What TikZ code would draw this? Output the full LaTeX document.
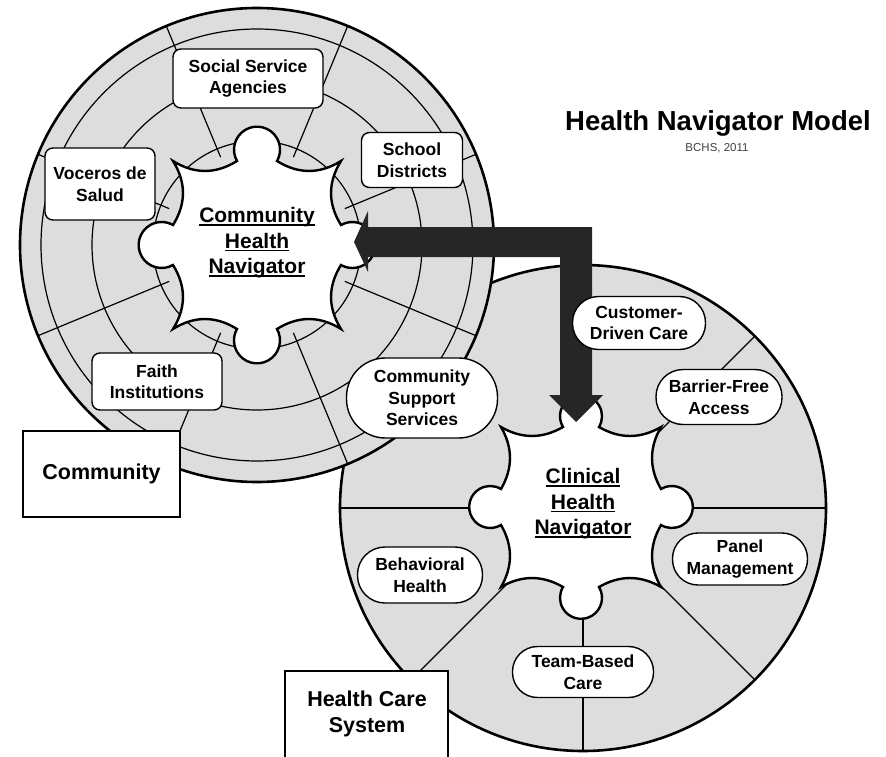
\documentclass[tikz,border=0pt]{standalone}
\usepackage{fontspec}
\setmainfont{Liberation Sans}
\usetikzlibrary{calc}
\definecolor{discfill}{HTML}{DDDDDD}
\definecolor{arrowfill}{HTML}{262626}
\newcommand\gearul[1]{\setbox0\hbox{#1}\rlap{\rule[-3pt]{\wd0}{1.6pt}}\box0}
\newcommand\lblfont{\fontsize{17.5}{21.5}\selectfont\bfseries}
\newcommand\puzzlegear[5]{%
\begin{scope}[shift={(#1)}]
\pgfmathsetmacro\gqS{#2}
\pgfmathsetmacro\gqN{#3}
\pgfmathsetmacro\gqT{#4}
\pgfmathsetmacro\gqB{#5*1.33}
\pgfmathsetmacro\gqK{sqrt(\gqT*\gqT-\gqN*\gqN)}
\pgfmathsetmacro\gqA{atan2(\gqK,\gqN)}
\pgfmathsetmacro\gqD{(\gqS-\gqN)/3}
\filldraw[gearline]
 (-\gqS,-\gqS) .. controls ({-\gqS+\gqD},{-\gqS+\gqB}) and ({-\gqN-\gqD},{-\gqS+\gqB}) .. (-\gqN,-\gqS)
 arc[start angle={180-\gqA}, end angle={360+\gqA}, radius=\gqT]
 .. controls ({\gqN+\gqD},{-\gqS+\gqB}) and ({\gqS-\gqD},{-\gqS+\gqB}) .. (\gqS,-\gqS)
 .. controls ({\gqS-\gqB},{-\gqS+\gqD}) and ({\gqS-\gqB},{-\gqN-\gqD}) .. (\gqS,-\gqN)
 arc[start angle={270-\gqA}, end angle={450+\gqA}, radius=\gqT]
 .. controls ({\gqS-\gqB},{\gqN+\gqD}) and ({\gqS-\gqB},{\gqS-\gqD}) .. (\gqS,\gqS)
 .. controls ({\gqS-\gqD},{\gqS-\gqB}) and ({\gqN+\gqD},{\gqS-\gqB}) .. (\gqN,\gqS)
 arc[start angle={360-\gqA}, end angle={540+\gqA}, radius=\gqT]
 .. controls ({-\gqN-\gqD},{\gqS-\gqB}) and ({-\gqS+\gqD},{\gqS-\gqB}) .. (-\gqS,\gqS)
 .. controls ({-\gqS+\gqB},{\gqS-\gqD}) and ({-\gqS+\gqB},{\gqN+\gqD}) .. (-\gqS,\gqN)
 arc[start angle={90-\gqA}, end angle={270+\gqA}, radius=\gqT]
 .. controls ({-\gqS+\gqB},{-\gqN-\gqD}) and ({-\gqS+\gqB},{-\gqS+\gqD}) .. cycle;
\end{scope}}
\begin{document}
\begin{tikzpicture}[x=1pt,y=-1pt,
  outerline/.style={line width=2.6pt},
  ringline/.style={line width=1.2pt},
  gearline/.style={line width=2.4pt, fill=white, miter limit=10},
  sqbox/.style={draw, line width=1.4pt, fill=white, rounded corners=8pt, align=center, inner sep=0pt, font=\lblfont},
  pill/.style={draw, line width=1.4pt, fill=white, align=center, inner sep=0pt, font=\lblfont},
  geartext/.style={align=center, inner sep=0pt, font=\fontsize{21}{25.5}\selectfont\bfseries},
  plainbox/.style={draw, line width=1.2pt, fill=white, align=center, inner sep=0pt, font=\fontsize{21.5}{25.5}\selectfont\bfseries}]
\path[use as bounding box] (0,0) rectangle (886,757);
\clip (0,0) rectangle (886,757);

% ---- right circle: health care system
\coordinate (R) at (583,508);
\fill[discfill] (R) circle[radius=243];
\begin{scope}[shift={(R)}]
\foreach \a in {315,0,45,90,135,180} \draw[ringline] (\a:90) -- (\a:243);
\end{scope}
\draw[outerline] (R) circle[radius=243];
\puzzlegear{581,507}{80}{18}{21}{9}
\node[geartext] (chnav) at (583,504) {\gearul{Clinical}\\\gearul{Health}\\\gearul{Navigator}};

\node[pill, minimum width=126pt, minimum height=55pt, rounded corners=27pt] (bfa) at (719,397) {Barrier-Free\\Access};
\node[pill, minimum width=135pt, minimum height=52pt, rounded corners=25.5pt] (pm) at (740,559) {Panel\\Management};
\node[pill, minimum width=141pt, minimum height=51pt, rounded corners=25pt] (tbc) at (583,672) {Team-Based\\Care};
\node[pill, minimum width=125pt, minimum height=56pt, rounded corners=27.5pt] (bh) at (420,575) {Behavioral\\Health};

% ---- left circle: community
\coordinate (L) at (257,245);
\fill[discfill] (L) circle[radius=237];
\foreach \r in {216,165,104} \draw[ringline] (L) circle[radius=\r];
\begin{scope}[shift={(L)}]
\foreach \a in {22.5,67.5,...,337.5} \draw[ringline] (\a:95) -- (\a:237);
\end{scope}
\draw[outerline] (L) circle[radius=237];
\puzzlegear{257,245}{84}{20}{23}{10}
\node[geartext] (cmnav) at (257,243) {\gearul{Community}\\\gearul{Health}\\\gearul{Navigator}};

\node[sqbox, minimum width=150pt, minimum height=59pt] (ssa) at (248,78.5) {Social Service\\Agencies};
\node[sqbox, minimum width=101pt, minimum height=55pt] (sd) at (412,160) {School\\Districts};
\node[sqbox, minimum width=110pt, minimum height=72pt] (vs) at (100,184) {Voceros de\\Salud};
\node[sqbox, minimum width=130pt, minimum height=57pt] (fi) at (157,381.5) {Faith\\Institutions};
\node[pill, minimum width=151pt, minimum height=80pt, rounded corners=39pt] (css) at (422,398) {Community\\Support\\Services};

% ---- context boxes
\node[plainbox, minimum width=157pt, minimum height=86pt] (comm) at (101.5,474) {Community};
\draw[line width=1.2pt, fill=white] (285,671) rectangle (448,800);
\node[plainbox, draw=none, fill=none] (hcs) at (367,714) {Health Care\\System};

% ---- two-headed L arrow between the navigators
\coordinate (ltip) at (354,242);
\coordinate (lbt) at (368,211);
\coordinate (lbb) at (368,272);
\coordinate (dtip) at (576,422);
\coordinate (dbl) at (549,395);
\coordinate (dbr) at (603,395);
\fill[arrowfill] (ltip) -- (lbt) -- (368,227) -- (592,227) -- (592,395) -- (dbr) -- (dtip) -- (dbl) -- (560,395) -- (560,257) -- (368,257) -- (lbb) -- cycle;

% box that sits over the arrow shaft
\node[pill, minimum width=133pt, minimum height=53pt, rounded corners=26pt] (cdc) at (639,323) {Customer-\\Driven Care};

% ---- title
\node[inner sep=0pt, font=\fontsize{27.5}{30}\selectfont\bfseries] (title) at (718,123) {Health Navigator Model};
\node[inner sep=0pt, font=\fontsize{11.5}{13}\selectfont, text=black!75] (sub) at (717,148) {BCHS, 2011};
\end{tikzpicture}
\end{document}
